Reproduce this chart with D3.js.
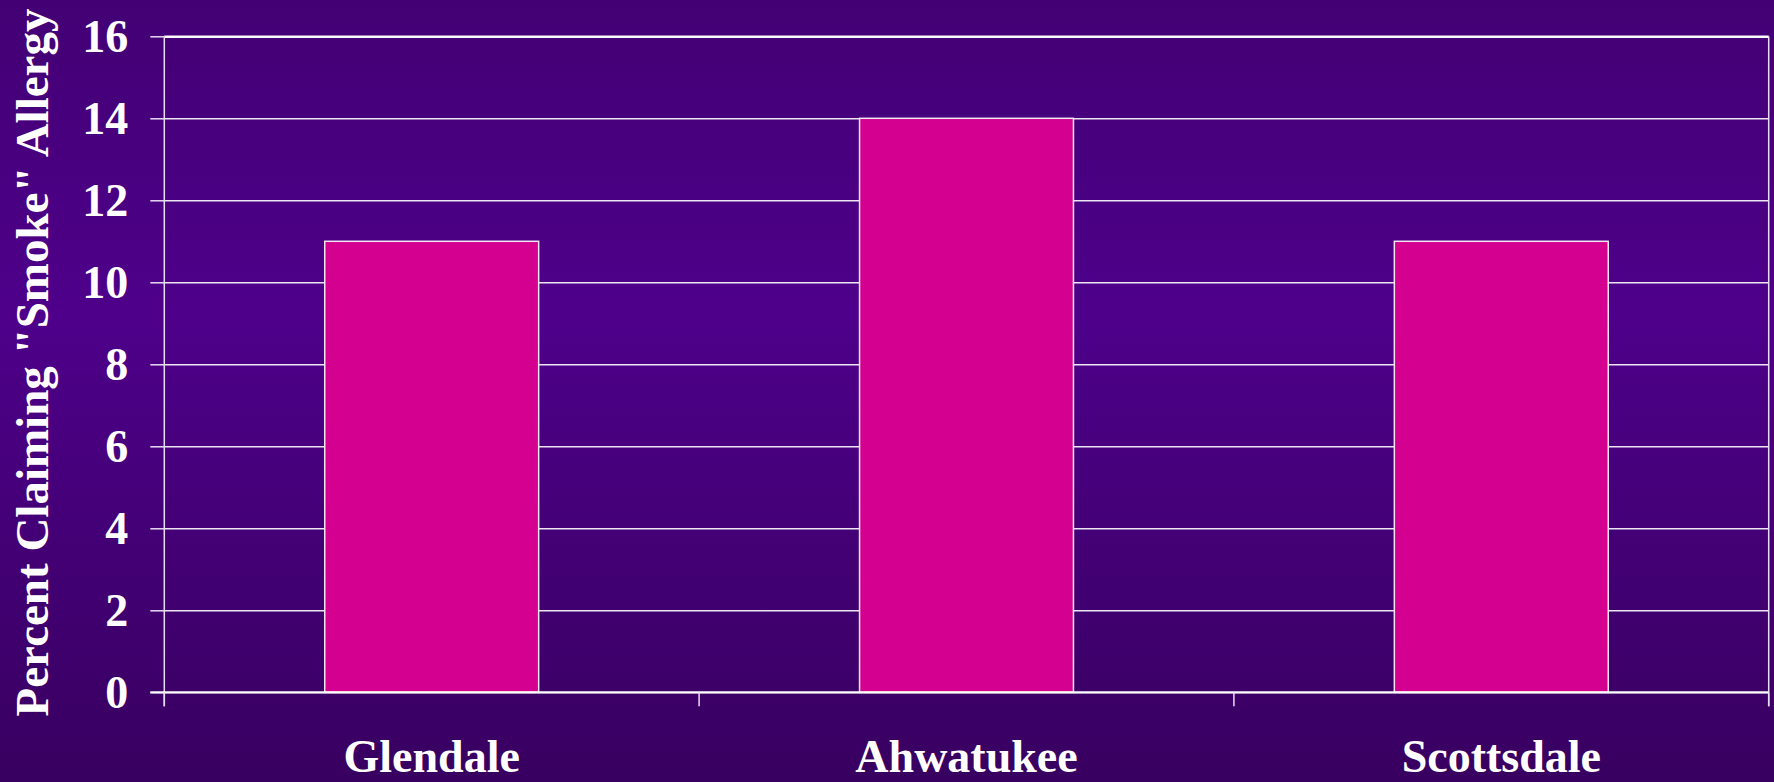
<!DOCTYPE html>
<html>
<head>
<meta charset="utf-8">
<script src="https://cdn.jsdelivr.net/npm/d3@7"></script>
<style>
  html, body { margin: 0; padding: 0; background: #3c0066; }
  svg { display: block; }
  text { font-family: "Liberation Serif", "Times New Roman", serif; font-weight: bold; fill: #ffffff; }
</style>
</head>
<body>
<div id="chart"></div>
<script>
// Survey results: share of respondents claiming a "smoke" allergy, by city
const categories = ["Glendale", "Ahwatukee", "Scottsdale"];
const percentValues = [11, 14, 11];
const yTickValues = [0, 2, 4, 6, 8, 10, 12, 14, 16];
const yTitle = "Percent Claiming \"Smoke\" Allergy";

const W = 1774, H = 782;
const plot = { left: 164.3, right: 1768.7, top: 36.3, bottom: 692.3 };

const svg = d3.select("#chart").append("svg")
  .attr("width", W).attr("height", H);

// Background: vertical purple gradient, brightest a little above the middle
const defs = svg.append("defs");
const grad = defs.append("linearGradient")
  .attr("id", "bg").attr("x1", 0).attr("y1", 0).attr("x2", 0).attr("y2", 1);
grad.append("stop").attr("offset", "0%").attr("stop-color", "#430074");
grad.append("stop").attr("offset", "40%").attr("stop-color", "#4e008a");
grad.append("stop").attr("offset", "100%").attr("stop-color", "#380060");
svg.append("rect").attr("width", W).attr("height", H).attr("fill", "url(#bg)");

const y = d3.scaleLinear().domain([0, 16]).range([plot.bottom, plot.top]);
const x = d3.scaleBand().domain(categories).range([plot.left, plot.right]).padding(0);

const plotW = plot.right - plot.left;

// Horizontal gridlines across the plot
const grid = svg.append("g")
  .attr("transform", `translate(${plot.left},0)`)
  .call(d3.axisLeft(y).tickValues(yTickValues).tickSize(-plotW).tickFormat(""));
grid.select(".domain").remove();
grid.selectAll(".tick line")
  .attr("stroke", "#ffffff").attr("stroke-width", 1.5).attr("stroke-opacity", 0.9);
grid.selectAll(".tick").filter(d => d === 16).select("line")
  .attr("stroke-width", 2.5).attr("stroke-opacity", 1);

// Right border of the plot
svg.append("line")
  .attr("x1", plot.right).attr("x2", plot.right)
  .attr("y1", plot.top).attr("y2", plot.bottom + 14)
  .attr("stroke", "#e8ddf2").attr("stroke-width", 1.5);

// Bars
const barW = x.bandwidth() * 0.4;
svg.append("g").selectAll("rect")
  .data(categories.map((c, i) => ({ c, v: percentValues[i] })))
  .join("rect")
  .attr("x", d => x(d.c) + x.bandwidth() / 2 - barW / 2)
  .attr("width", barW)
  .attr("y", d => y(d.v))
  .attr("height", d => y(0) - y(d.v))
  .attr("fill", "#d40090")
  .attr("stroke", "#f2e6f2")
  .attr("stroke-width", 1.5);

// Y axis with outward ticks and labels
const yAxis = svg.append("g")
  .attr("transform", `translate(${plot.left},0)`)
  .call(d3.axisLeft(y).tickValues(yTickValues).tickSizeInner(14).tickSizeOuter(0).tickPadding(22));
yAxis.select(".domain").remove();
yAxis.selectAll(".tick line").attr("stroke", "#e8ddf2").attr("stroke-width", 1.5);
yAxis.selectAll(".tick text")
  .attr("fill", "#ffffff")
  .style("font-size", "46px")
  .style("font-family", "'Liberation Serif', 'Times New Roman', serif")
  .style("font-weight", "bold");
svg.append("line")
  .attr("x1", plot.left).attr("x2", plot.left)
  .attr("y1", plot.top).attr("y2", plot.bottom + 14)
  .attr("stroke", "#e8ddf2").attr("stroke-width", 1.5);

// X axis baseline and category boundary ticks
svg.append("line")
  .attr("x1", plot.left - 14).attr("x2", plot.right)
  .attr("y1", y(0)).attr("y2", y(0))
  .attr("stroke", "#ffffff").attr("stroke-width", 2);
const bounds = categories.map(c => x(c)).concat([plot.right]);
svg.append("g").selectAll("line")
  .data(bounds)
  .join("line")
  .attr("x1", d => d).attr("x2", d => d)
  .attr("y1", y(0)).attr("y2", y(0) + 14)
  .attr("stroke", "#e8ddf2").attr("stroke-width", 1.5);

// Category labels
svg.append("g").selectAll("text")
  .data(categories)
  .join("text")
  .attr("x", d => x(d) + x.bandwidth() / 2)
  .attr("y", 772)
  .attr("text-anchor", "middle")
  .style("font-size", "46px")
  .text(d => d);

// Y axis title
svg.append("text")
  .attr("transform", `translate(48,${(9 + 716) / 2}) rotate(-90)`)
  .attr("text-anchor", "middle")
  .style("font-size", "47px")
  .text(yTitle);
</script>
</body>
</html>
